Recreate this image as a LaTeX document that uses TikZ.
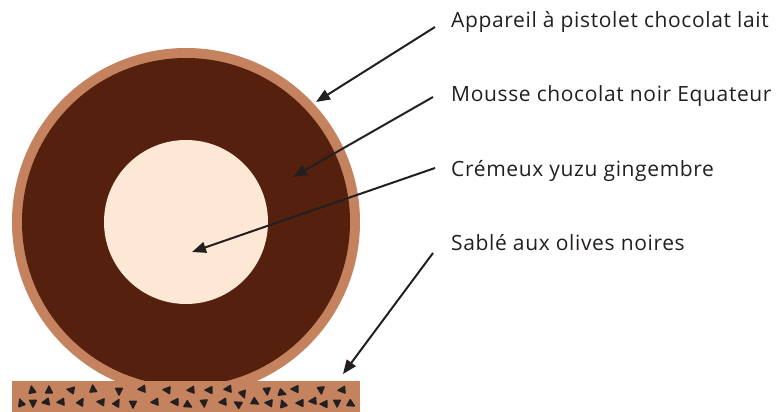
\documentclass[tikz,border=0pt]{standalone}
\usepackage{fontspec}
\setmainfont[LetterSpace=3]{Open Sans}
\usetikzlibrary{arrows.meta}
\definecolor{ring}{HTML}{C4825E}
\definecolor{mousse}{HTML}{55200D}
\definecolor{cream}{HTML}{FDE8D6}
\definecolor{ink}{HTML}{231F20}
\tikzset{
  label/.style={anchor=base west, inner sep=0pt, font=\fontsize{21}{24}\selectfont, text=ink},
  pointer/.style={draw=ink, line width=2pt, -{Triangle[length=14pt,width=11pt]}},
  chip/.style={fill=ink, rounded corners=1pt}
}
\begin{document}
\begin{tikzpicture}[x=1pt,y=-1pt]
\useasboundingbox (0,0) rectangle (777,412);
% cake
\fill[ring] (186,222) circle[radius=174pt];
\fill[mousse] (186,222) circle[radius=164pt];
\fill[cream] (186,222) circle[radius=82pt];
% base
\fill[ring] (12,381) rectangle (360,412);
\foreach \x/\y/\r in {32/390/10, 49/390/0, 71/390/80, 93/389/5, 119/391/180, 142/389/95,
  167/390/85, 191/390/95, 209/390/90, 228/389/95, 243/394/200, 267/391/185, 282/393/250,
  295/389/90, 321/390/185, 342/390/95,
  21/403/20, 33/403/180, 46/402/100, 61/402/95, 81/402/-30, 101/402/85, 117/403/-30,
  133/404/180, 155/402/95, 175/402/90, 188/405/240, 204/403/185, 223/402/95, 238/404/60,
  255/402/240, 269/403/85, 283/404/20, 300/403/90, 313/401/95, 324/404/90, 337/403/180, 351/404/240}
  \fill[chip,shift={(\x,\y)},rotate=\r] (0,-5.5) -- (4.5,3.5) -- (-4.5,3.5) -- cycle;
% labels
\node[label] (t1) at (451,28) {Appareil à pistolet chocolat lait};
\node[label] (t2) at (451,102) {Mousse chocolat noir Equateur};
\node[label] (t3) at (451,176) {Crémeux yuzu gingembre};
\node[label] (t4) at (451,250) {Sablé aux olives noires};
% arrow ends
\coordinate (s1) at (435,27);  \coordinate (e1) at (316,102);
\coordinate (s2) at (433,97);  \coordinate (e2) at (293,177);
\coordinate (s3) at (435,168); \coordinate (e3) at (192,252);
\coordinate (s4) at (433,253); \coordinate (e4) at (343,374);
\draw[pointer] (s1) -- (e1);
\draw[pointer] (s2) -- (e2);
\draw[pointer] (s3) -- (e3);
\draw[pointer] (s4) -- (e4);
\end{tikzpicture}
\end{document}
